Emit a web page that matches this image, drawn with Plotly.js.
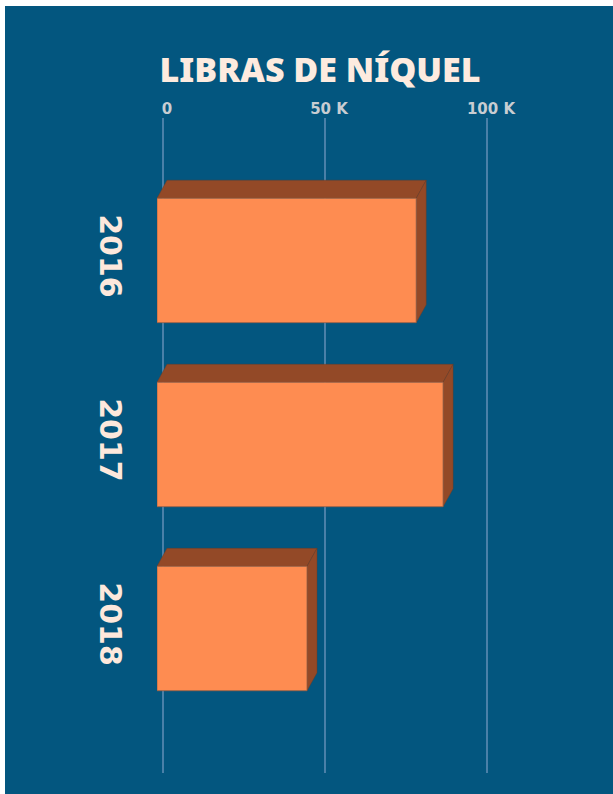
<!DOCTYPE html>
<html><head><meta charset="utf-8">
<script src="https://cdn.plot.ly/plotly-3.0.1.min.js"></script>
<style>html,body{margin:0;padding:0;background:#ffffff;} #chart{position:absolute;left:5px;top:6px;width:608px;height:788px;}</style>
</head><body><div id="chart"></div>
<script>
// ---- data ----
const years = ['2016', '2017', '2018'];
const pounds = [80000, 88300, 46300];
const tickVals = [0, 50000, 100000];
const tickText = ['0', '50 K', '100 K'];
const chartTitle = 'LIBRAS DE NÍQUEL';

// ---- style ----
const BG = '#03567f';
const FRONT = '#fe8c51';
const DEPTH = '#934927';
const W = 608, H = 788;
const M = {l: 152, r: 0, t: 112, b: 21};
const plotW = W - M.l - M.r, plotH = H - M.t - M.b;
const pxPerUnit = 3.24 / 1000;           // pixels per pound
const gridShiftPx = 6;                  // grid plane sits mid-depth
const depthX = 10, depthY = 18;         // 3D extrusion in pixels
const yRange = [2.785, -0.774];
const barW = 0.676;

const shift = gridShiftPx / pxPerUnit;
const barRange = [0, plotW / pxPerUnit];              // front plane axis (x2)
const gridRange = [-shift, plotW / pxPerUnit - shift]; // grid plane axis (x)
const pxPerY = plotH / Math.abs(yRange[0] - yRange[1]);
const dx = depthX / pxPerUnit;
const dy = depthY / pxPerY;

const yPos = years.map((_, i) => i);

const traces = [];
// depth faces (top + side), in the grid-plane axis: front plane sits at -shift
pounds.forEach((v, i) => {
  const top = yPos[i] - barW / 2, bot = yPos[i] + barW / 2;
  const f0 = -shift, f1 = v - shift;
  const faceStyle = {type: 'scatter', mode: 'lines', fill: 'toself', fillcolor: DEPTH,
    line: {color: 'rgba(110,60,35,0.7)', width: 0.6}, hoverinfo: 'skip', showlegend: false,
    xaxis: 'x', yaxis: 'y'};
  traces.push(Object.assign({}, faceStyle, {
    x: [f0, f0 + dx, f1 + dx, f1, f0],
    y: [top, top - dy, top - dy, top, top]}));
  traces.push(Object.assign({}, faceStyle, {
    x: [f1, f1 + dx, f1 + dx, f1, f1],
    y: [top, top - dy, bot - dy, bot, top]}));
});
// front faces
traces.push({
  type: 'bar', orientation: 'h', x: pounds, y: yPos, width: barW,
  marker: {color: FRONT, line: {color: 'rgba(150,95,70,0.8)', width: 1}},
  hoverinfo: 'skip', showlegend: false, xaxis: 'x2', yaxis: 'y'
});

const layout = {
  width: W, height: H, margin: M,
  paper_bgcolor: BG, plot_bgcolor: BG,
  showlegend: false,
  title: {text: chartTitle, x: 315 / W, xanchor: 'center', xref: 'container',
    y: 1 - 64 / H, yanchor: 'middle', yref: 'container',
    font: {family: 'Noto Sans', size: 34, color: '#fdebdf', weight: 900}},
  xaxis: {range: gridRange, side: 'top', anchor: 'y',
    tickvals: tickVals, ticktext: tickText,
    showgrid: true, gridcolor: '#4a80a8', gridwidth: 2, zeroline: false, showline: false,
    ticks: '', ticklabelshift: 4, fixedrange: true,
    tickfont: {family: 'DejaVu Sans', size: 15, color: '#c8cdd2', weight: 'bold'}},
  xaxis2: {overlaying: 'x', anchor: 'y', range: barRange, showgrid: false, zeroline: false,
    showline: false, showticklabels: false, ticks: '', fixedrange: true},
  yaxis: {range: yRange, tickvals: yPos, ticktext: years, tickangle: 90,
    showgrid: false, zeroline: false, showline: false, ticks: '',
    ticklabelstandoff: 26, automargin: false, fixedrange: true,
    tickfont: {family: 'DejaVu Sans', size: 30, color: '#fde8dc', weight: 'bold'}}
};

Plotly.newPlot('chart', traces, layout, {staticPlot: true, displayModeBar: false});
</script></body></html>
